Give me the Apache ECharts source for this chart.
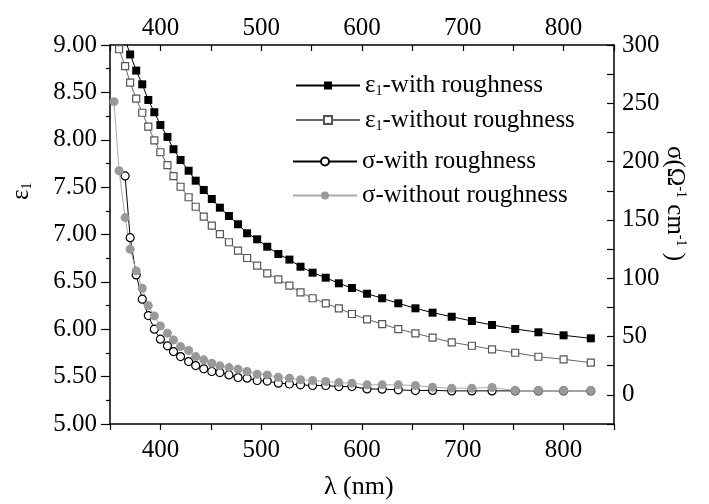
<!DOCTYPE html>
<html>
<head>
<meta charset="utf-8">
<script src="https://cdn.jsdelivr.net/npm/echarts@6/dist/echarts.min.js"></script>
<style>
  html, body { margin: 0; padding: 0; background: #fff; }
  #chart { width: 709px; height: 504px; }
</style>
</head>
<body>
<div id="chart"></div>
<script>
// ── data (λ in nm, 0.05 eV steps from 3.50 to 1.50 eV) ──
const lambda = [354, 359, 365, 370, 376, 382, 388, 394, 400, 407, 413, 420, 428, 435, 443, 451,
  459, 468, 477, 486, 496, 506, 517, 528, 539, 551, 564, 577, 590, 605, 620, 636, 653, 670,
  689, 709, 729, 752, 775, 800, 827];

const eps1With = [null, null, 9.06, 8.90, 8.73, 8.585, 8.42, 8.29, 8.156, 8.03, 7.90, 7.786,
  7.673, 7.568, 7.47, 7.375, 7.283, 7.195, 7.108, 7.013, 6.949, 6.871, 6.794, 6.735, 6.66,
  6.597, 6.544, 6.485, 6.435, 6.375, 6.327, 6.274, 6.221, 6.175, 6.132, 6.087, 6.045, 6.003,
  5.968, 5.936, 5.904];

const eps1Without = [null, 8.955, 8.778, 8.602, 8.433, 8.285, 8.138, 7.994, 7.868, 7.733,
  7.617, 7.504, 7.393, 7.293, 7.188, 7.093, 7.005, 6.918, 6.829, 6.752, 6.671, 6.590, 6.527,
  6.460, 6.390, 6.327, 6.274, 6.221, 6.161, 6.105, 6.055, 6.002, 5.957, 5.911, 5.862, 5.826,
  5.788, 5.752, 5.710, 5.683, 5.647];

const sigmaWith = [null, null, 187.7, 134.8, 102.8, 82.0, 68.0, 56.3, 47.7, 42.0, 37.1, 32.8,
  28.5, 25.1, 22.3, 20.0, 19.1, 17.1, 14.8, 14.3, 12.3, 11.8, 10.0, 9.3, 8.6, 8.0, 8.0, 7.1,
  7.1, 5.1, 4.9, 4.3, 3.7, 3.8, 3.4, 3.4, 3.4, 3.4, 3.4, 3.4, 3.4];

const sigmaWithout = [251.4, 192.2, 152.0, 124.9, 106.3, 91.4, 76.5, 67.7, 59.1, 52.9, 47.1,
  41.4, 38.0, 32.8, 30.0, 27.2, 24.9, 23.4, 22.0, 20.0, 17.7, 17.1, 15.1, 14.3, 12.9, 12.3,
  11.4, 10.5, 10.0, 8.6, 8.6, 8.6, 8.0, 6.5, 5.7, 5.7, 6.3, 3.7, 3.7, 3.7, 3.7];

const seriesNames = ['ε1-with roughness', 'ε1-without roughness', 'σ-with roughness', 'σ-without roughness'];

const FONT = 'Liberation Serif';

function pairs(vals) {
  const out = [];
  vals.forEach((v, i) => { if (v !== null) out.push([lambda[i], v]); });
  return out;
}

const richText = {
  t:   { fontFamily: FONT, fontSize: 25, color: '#000' },
  sub: { fontFamily: FONT, fontSize: 14, color: '#000', padding: [12, 0, 0, 0] },
};

function legendFmt(name) {
  if (name.indexOf('ε1') === 0) return '{t|ε}{sub|1}{t|' + name.slice(2) + '}';
  return '{t|' + name + '}';
}

const axisLineStyle = { color: '#000', width: 1.5 };
const labelStyle = { fontFamily: FONT, fontSize: 25, color: '#000' };

const chart = echarts.init(document.getElementById('chart'));

chart.setOption({
  animation: false,
  backgroundColor: '#fff',
  grid: { left: 110, right: 95, top: 45, bottom: 80 },
  xAxis: [
    {
      type: 'value', position: 'bottom', min: 350, max: 850, interval: 50,
      axisLine: { onZero: false, lineStyle: axisLineStyle },
      axisTick: { inside: false, length: 6, lineStyle: { color: '#000', width: 1.2 } },
      axisLabel: Object.assign({ margin: 14, formatter: v => (v % 100 === 0 ? String(v) : '') }, labelStyle),
      splitLine: { show: false },
    },
    {
      type: 'value', position: 'top', min: 350, max: 850, interval: 50,
      axisLine: { onZero: false, lineStyle: axisLineStyle },
      axisTick: { inside: true, length: 6, lineStyle: { color: '#000', width: 1.2 } },
      axisLabel: Object.assign({ margin: 4, formatter: v => (v % 100 === 0 ? String(v) : '') }, labelStyle),
      splitLine: { show: false },
    },
  ],
  yAxis: [
    {
      type: 'value', position: 'left', min: 5, max: 9, interval: 0.5,
      axisLine: { onZero: false, lineStyle: axisLineStyle },
      axisTick: { inside: false, length: 9, lineStyle: { color: '#000', width: 1.2 } },
      minorTick: { show: true, splitNumber: 2, length: 4, lineStyle: { color: '#000', width: 1.2 } },
      axisLabel: Object.assign({ margin: 13, formatter: v => v.toFixed(2) }, labelStyle),
      splitLine: { show: false },
    },
    {
      type: 'value', position: 'right', min: -25, max: 300, interval: 25,
      axisLine: { onZero: false, lineStyle: axisLineStyle },
      axisTick: { inside: true, length: 7, lineStyle: { color: '#000', width: 1.2 } },
      axisLabel: Object.assign({ margin: 8, formatter: v => (v >= 0 && v % 50 === 0 ? String(v) : '') }, labelStyle),
      splitLine: { show: false },
    },
  ],
  legend: [
    {
      orient: 'vertical', left: 290, top: 68, itemWidth: 64, itemHeight: 10, itemGap: 9,
      data: seriesNames.slice(0, 2), formatter: legendFmt,
      textStyle: { rich: richText, fontFamily: FONT, fontSize: 25 },
    },
    {
      orient: 'vertical', left: 287, top: 144, itemWidth: 64, itemHeight: 10, itemGap: 9,
      data: seriesNames.slice(2), formatter: legendFmt,
      textStyle: { rich: richText, fontFamily: FONT, fontSize: 25 },
    },
  ],
  series: [
    {
      name: seriesNames[0], type: 'line', xAxisIndex: 0, yAxisIndex: 0,
      data: pairs(eps1With), symbol: 'rect', symbolSize: 8,
      lineStyle: { color: '#000', width: 1 },
      itemStyle: { color: '#000', borderColor: '#000', borderWidth: 0 },
    },
    {
      name: seriesNames[1], type: 'line', xAxisIndex: 0, yAxisIndex: 0,
      data: pairs(eps1Without), symbol: 'rect', symbolSize: 7,
      lineStyle: { color: '#666', width: 1 },
      itemStyle: { color: '#fff', borderColor: '#555', borderWidth: 1.2 },
    },
    {
      name: seriesNames[2], type: 'line', xAxisIndex: 0, yAxisIndex: 1,
      data: pairs(sigmaWith), symbol: 'circle', symbolSize: 8,
      lineStyle: { color: '#000', width: 1 },
      itemStyle: { color: '#fff', borderColor: '#000', borderWidth: 1.2 },
    },
    {
      name: seriesNames[3], type: 'line', xAxisIndex: 0, yAxisIndex: 1,
      data: pairs(sigmaWithout), symbol: 'circle', symbolSize: 9,
      lineStyle: { color: '#aaa', width: 1 },
      itemStyle: { color: '#999', borderColor: '#999', borderWidth: 0 },
    },
  ],
  graphic: [
    {
      type: 'text', left: 324, top: 474,
      style: { text: 'λ (nm)', fontFamily: FONT, fontSize: 26, fill: '#000' },
    },
    {
      type: 'text', x: 8, y: 200, rotation: Math.PI / 2,
      style: { text: '{t|ε}{sub|1}', rich: richText, fill: '#000' },
    },
    {
      type: 'text', x: 688, y: 146, rotation: -Math.PI / 2,
      style: {
        text: '{t|σ(Ω}{sup|-1}{t| cm}{sup|-1}{t| )}',
        rich: {
          t:   { fontFamily: FONT, fontSize: 25, color: '#000' },
          sup: { fontFamily: FONT, fontSize: 14, color: '#000', padding: [0, 0, 12, 0] },
        },
        fill: '#000',
      },
    },
  ],
});
</script>
</body>
</html>
